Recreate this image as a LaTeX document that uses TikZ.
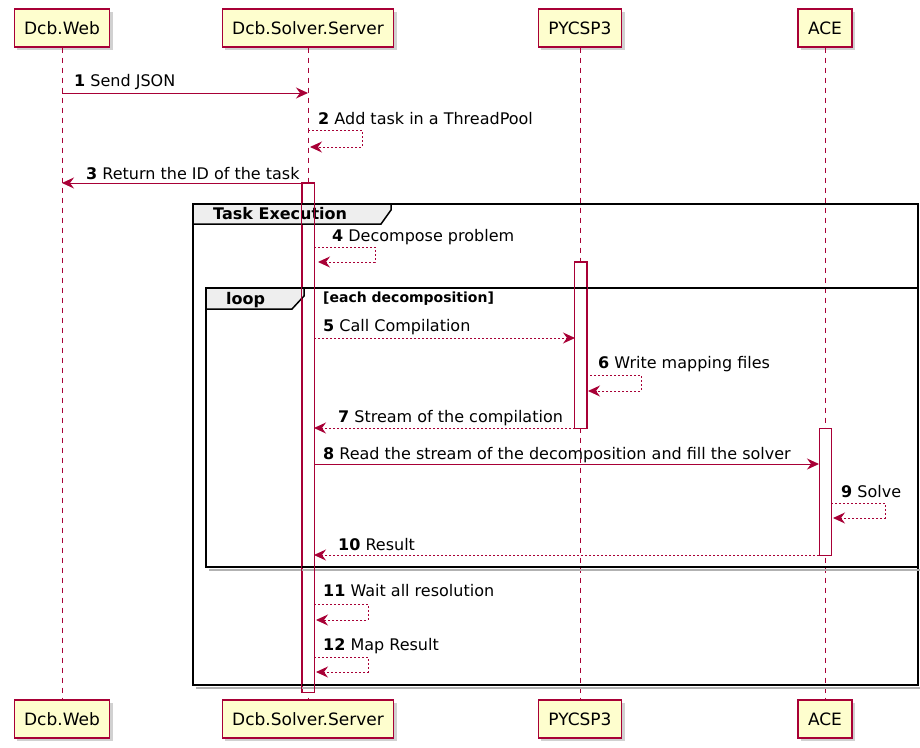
\documentclass[tikz,border=0pt]{standalone}
\usepackage{fontspec}
\setmainfont{DejaVu Sans}
\usepackage{tikz}
\usetikzlibrary{arrows.meta,shadows}
\definecolor{LineRed}{HTML}{A80036}
\definecolor{BoxYellow}{HTML}{FEFECE}
\definecolor{TabGray}{HTML}{EEEEEE}
\newcommand\nodeweb{Dcb.Web}
\newcommand\nodesrv{Dcb.Solver.Server}
\newcommand\nodepy{PYCSP3}
\newcommand\nodeace{ACE}
\tikzstyle{partstyle} = [rectangle, draw=LineRed, fill=BoxYellow, line width=1.2pt, minimum height=38pt, inner xsep=10pt, font=\fontsize{17}{20}\selectfont, drop shadow={shadow xshift=3pt, shadow yshift=-3pt, opacity=0.3, fill=black!60}]
\tikzstyle{act} = [rectangle, draw=LineRed, fill=white, line width=1pt, minimum width=12pt, inner sep=0pt]
\tikzstyle{lifeline} = [draw=LineRed, line width=0.8pt, dash pattern=on 5pt off 5pt]
\tikzstyle{msg} = [draw=LineRed, line width=1pt, -{Stealth[length=12pt, width=11pt, inset=4pt]}]
\tikzstyle{dmsg} = [msg, dash pattern=on 2pt off 2pt]
\tikzstyle{lbl} = [anchor=base west, inner sep=0pt, font=\fontsize{16}{19}\selectfont]
\tikzstyle{frame} = [draw=black, line width=2pt]
\tikzstyle{tab} = [draw=black, fill=TabGray, line width=1.5pt]
\tikzstyle{frameshadow} = [draw=black!30, line width=2pt]
\tikzset{>=Stealth, x=1pt, y=-1pt}

\begin{document}
\begin{tikzpicture}
\useasboundingbox (0,0) rectangle (920,747);
% participants
\node[partstyle] (webtop) at (62, 28) {\nodeweb};
\node[partstyle] (srvtop) at (308, 28) {\nodesrv};
\node[partstyle] (pytop) at (580, 28) {\nodepy};
\node[partstyle] (acetop) at (825, 28) {\nodeace};
\node[partstyle] (webbot) at (62, 719) {\nodeweb};
\node[partstyle] (srvbot) at (308, 719) {\nodesrv};
\node[partstyle] (pybot) at (580, 719) {\nodepy};
\node[partstyle] (acebot) at (825, 719) {\nodeace};
\draw[lifeline] (webtop) -- (webbot);
\draw[lifeline] (srvtop) -- (srvbot);
\draw[lifeline] (pytop) -- (pybot);
\draw[lifeline] (acetop) -- (acebot);
% activations
\node[act, minimum height=509pt] (srvact) at (308, 437.5) {};
\node[act, minimum height=166pt] (pyact) at (580.5, 345) {};
\node[act, minimum height=127pt] (aceact) at (825, 491.5) {};
% groups
\draw[frameshadow] (196, 688) -- (921, 688);
\draw[frame] (193, 204) rectangle (918, 685);
\draw[tab] (193, 204) -- (391, 204) -- (391, 210) -- (381, 224) -- (193, 224) -- cycle;
\node[anchor=base west, inner sep=0pt, font=\fontsize{16}{19}\selectfont\bfseries] (grptask) at (213, 219) {Task Execution};
\draw[frameshadow] (209, 570) -- (921, 570);
\draw[frame] (206, 288) rectangle (918, 567);
\draw[tab] (206, 288) -- (304, 288) -- (304, 296) -- (292, 309) -- (206, 309) -- cycle;
\node[anchor=base west, inner sep=0pt, font=\fontsize{16}{19}\selectfont\bfseries] (grploop) at (226, 304) {loop};
\node[anchor=base west, inner sep=0pt, font=\fontsize{14}{17}\selectfont\bfseries] (grpcond) at (323, 302) {[each decomposition]};
\draw[draw=LineRed, line width=1pt] (srvact.north west) rectangle (srvact.south east);
\draw[draw=LineRed, line width=1pt] (pyact.north west) rectangle (pyact.south east);
% message ends
\coordinate (m1a) at (62, 93);
\coordinate (m1b) at (308, 93);
\coordinate (m2a) at (308, 130);
\coordinate (m2b) at (310, 147);
\coordinate (m3a) at (308, 183);
\coordinate (m3b) at (62, 183);
\coordinate (m4a) at (314, 247);
\coordinate (m4b) at (318, 262);
\coordinate (m5a) at (314, 338);
\coordinate (m5b) at (575, 338);
\coordinate (m6a) at (586, 375);
\coordinate (m6b) at (588, 391);
\coordinate (m7a) at (575, 428);
\coordinate (m7b) at (314, 428);
\coordinate (m8a) at (314, 464);
\coordinate (m8b) at (819, 464);
\coordinate (m9a) at (831, 503);
\coordinate (m9b) at (833, 518);
\coordinate (m10a) at (819, 555);
\coordinate (m10b) at (314, 555);
\coordinate (m11a) at (314, 604);
\coordinate (m11b) at (316, 620);
\coordinate (m12a) at (314, 657);
\coordinate (m12b) at (316, 672);
% messages
\draw[msg] (m1a) -- (m1b);
\draw[dmsg] (m2a) -- ++(54, 0) |- (m2b);
\draw[msg] (m3a) -- (m3b);
\draw[dmsg] (m4a) -- ++(61, 0) |- (m4b);
\draw[dmsg] (m5a) -- (m5b);
\draw[dmsg] (m6a) -- ++(55, 0) |- (m6b);
\draw[dmsg] (m7a) -- (m7b);
\draw[msg] (m8a) -- (m8b);
\draw[dmsg] (m9a) -- ++(54, 0) |- (m9b);
\draw[dmsg] (m10a) -- (m10b);
\draw[dmsg] (m11a) -- ++(54, 0) |- (m11b);
\draw[dmsg] (m12a) -- ++(54, 0) |- (m12b);
% labels
\node[lbl] (t1) at (74, 86) {\textbf{1} Send JSON};
\node[lbl] (t2) at (318, 124) {\textbf{2} Add task in a ThreadPool};
\node[lbl] (t3) at (86, 179) {\textbf{3} Return the ID of the task};
\node[lbl] (t4) at (332, 241) {\textbf{4} Decompose problem};
\node[lbl] (t5) at (323, 331) {\textbf{5} Call Compilation};
\node[lbl] (t6) at (598, 368) {\textbf{6} Write mapping files};
\node[lbl] (t7) at (338, 422) {\textbf{7} Stream of the compilation};
\node[lbl] (t8) at (323, 459) {\textbf{8} Read the stream of the decomposition and fill the solver};
\node[lbl] (t9) at (841, 497) {\textbf{9} Solve};
\node[lbl] (t10) at (338, 550) {\textbf{10} Result};
\node[lbl] (t11) at (323, 596) {\textbf{11} Wait all resolution};
\node[lbl] (t12) at (323, 650) {\textbf{12} Map Result};
\end{tikzpicture}
\end{document}
